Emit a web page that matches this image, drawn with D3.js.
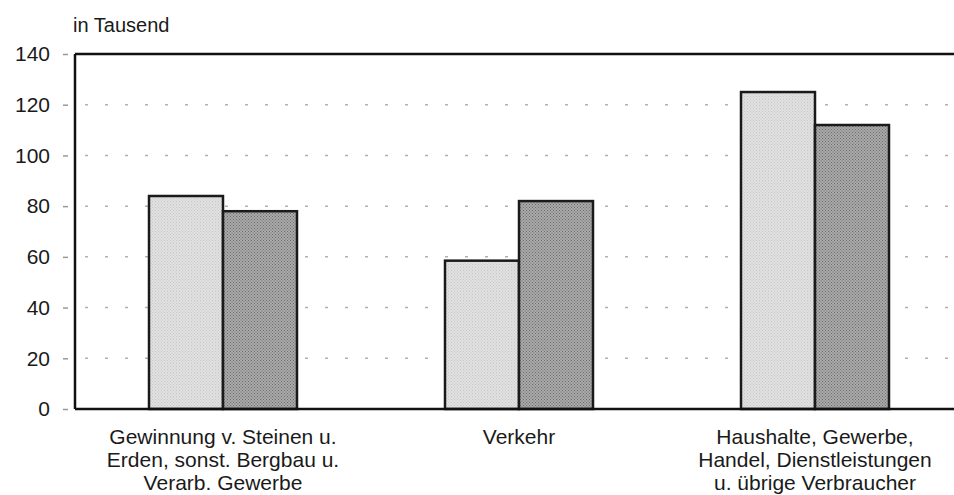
<!DOCTYPE html>
<html>
<head>
<meta charset="utf-8">
<script src="https://cdn.jsdelivr.net/npm/d3@7"></script>
<style>
  body { margin: 0; background: #fff; }
  svg { display: block; font-family: "Liberation Sans", Arial, sans-serif; }
</style>
</head>
<body>
<div id="chart"></div>
<script>
// data (in Tausend)
const categories = [
  ['Gewinnung v. Steinen u.', 'Erden, sonst. Bergbau u.', 'Verarb. Gewerbe'],
  ['Verkehr'],
  ['Haushalte, Gewerbe,', 'Handel, Dienstleistungen', 'u. übrige Verbraucher']
];
const seriesA = [84, 58.5, 125];   // light bars
const seriesB = [78, 82, 112];     // dark bars
const yTicks = [0, 20, 40, 60, 80, 100, 120, 140];

const width = 954, height = 495;
const margin = { top: 54, right: -9, bottom: 86, left: 75 };
const innerW = width - margin.left - margin.right;
const innerH = height - margin.top - margin.bottom;

const svg = d3.select('#chart').append('svg')
  .attr('width', width)
  .attr('height', height);

// dithered fills, like the scanned original
const defs = svg.append('defs');
function dither(id, base, dot) {
  const p = defs.append('pattern')
    .attr('id', id)
    .attr('patternUnits', 'userSpaceOnUse')
    .attr('width', 3).attr('height', 3);
  p.append('rect').attr('width', 3).attr('height', 3).attr('fill', base);
  p.append('rect').attr('x', 0).attr('y', 0).attr('width', 1).attr('height', 1).attr('fill', dot);
  p.append('rect').attr('x', 1.5).attr('y', 1.5).attr('width', 1).attr('height', 1).attr('fill', dot);
}
dither('lightFill', '#e2e2e2', '#c4c4c4');
dither('darkFill', '#a9a9a9', '#6e6e6e');

const g = svg.append('g').attr('transform', `translate(${margin.left},${margin.top})`);

const x = d3.scaleBand()
  .domain(d3.range(categories.length))
  .range([0, innerW])
  .paddingInner(0)
  .paddingOuter(0);

const xSub = d3.scaleBand()
  .domain(['a', 'b'])
  .range([0, x.bandwidth() / 2]);

const y = d3.scaleLinear().domain([0, 140]).range([innerH, 0]);

// dotted grid
g.append('g')
  .selectAll('line')
  .data(yTicks.filter(d => d > 0 && d < 140))
  .join('line')
  .attr('x1', 0)
  .attr('x2', innerW)
  .attr('y1', d => y(d))
  .attr('y2', d => y(d))
  .attr('stroke', '#b0b0b0')
  .attr('stroke-width', 1.5)
  .attr('stroke-dasharray', '3 17')
  .attr('stroke-dashoffset', -10);

// y axis
const yAxis = g.append('g')
  .call(d3.axisLeft(y).tickValues(yTicks).tickSize(6).tickPadding(13));
yAxis.select('.domain').remove();
yAxis.selectAll('.tick line')
  .attr('x1', -12).attr('x2', -7)
  .attr('stroke', '#999').attr('stroke-width', 1.5);
yAxis.selectAll('.tick text')
  .attr('x', -25)
  .attr('font-size', 21)
  .attr('font-family', '"Liberation Sans", Arial, sans-serif')
  .attr('fill', '#1a1a1a');

// bars
const groups = g.append('g')
  .selectAll('g')
  .data(categories.map((c, i) => ({ i, a: seriesA[i], b: seriesB[i] })))
  .join('g')
  .attr('transform', d => `translate(${x(d.i) + x.bandwidth() / 4},0)`);

groups.append('rect')
  .attr('x', xSub('a'))
  .attr('y', d => y(d.a))
  .attr('width', xSub.bandwidth())
  .attr('height', d => innerH - y(d.a))
  .attr('fill', 'url(#lightFill)')
  .attr('stroke', '#1a1a1a')
  .attr('stroke-width', 2.5);

groups.append('rect')
  .attr('x', xSub('b'))
  .attr('y', d => y(d.b))
  .attr('width', xSub.bandwidth())
  .attr('height', d => innerH - y(d.b))
  .attr('fill', 'url(#darkFill)')
  .attr('stroke', '#1a1a1a')
  .attr('stroke-width', 2.5);

// frame: left axis, top and bottom lines
g.append('line').attr('x1', 0).attr('x2', 0).attr('y1', 0).attr('y2', innerH)
  .attr('stroke', '#111').attr('stroke-width', 2.5);
g.append('line').attr('x1', 0).attr('x2', innerW).attr('y1', 0).attr('y2', 0)
  .attr('stroke', '#111').attr('stroke-width', 2.5);
g.append('line').attr('x1', 0).attr('x2', innerW).attr('y1', innerH).attr('y2', innerH)
  .attr('stroke', '#111').attr('stroke-width', 2.5);

// category labels
const labels = g.append('g')
  .selectAll('text')
  .data(categories)
  .join('text')
  .attr('x', (d, i) => x(i) + x.bandwidth() / 2)
  .attr('y', innerH + 35)
  .attr('text-anchor', 'middle')
  .attr('font-size', 21)
  .attr('fill', '#1a1a1a');
labels.selectAll('tspan')
  .data(d => d)
  .join('tspan')
  .attr('x', function () { return this.parentNode.getAttribute('x'); })
  .attr('dy', (d, i) => i === 0 ? 0 : 23)
  .text(d => d);

// unit label
svg.append('text')
  .attr('x', 73)
  .attr('y', 32)
  .attr('font-size', 20)
  .attr('fill', '#1a1a1a')
  .text('in Tausend');
</script>
</body>
</html>
